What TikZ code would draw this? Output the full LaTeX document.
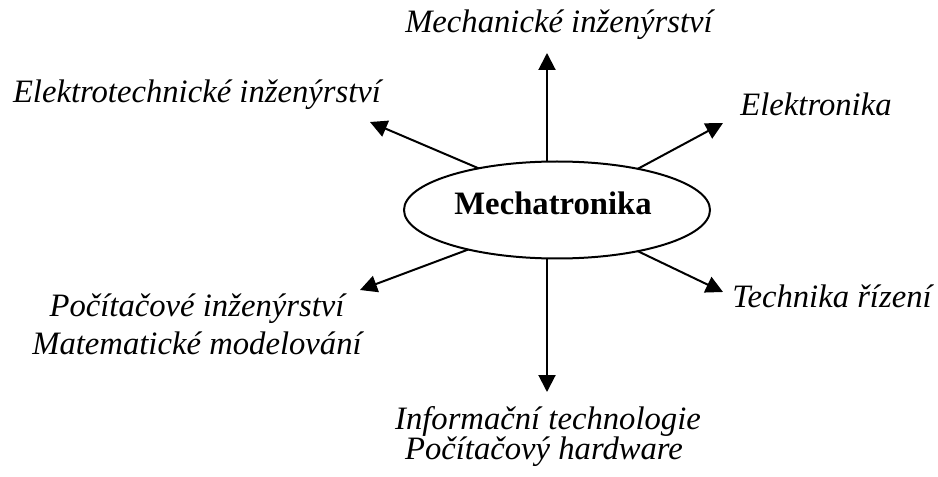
\documentclass[tikz,border=0pt]{standalone}
\usepackage{fontspec}
\setmainfont{Liberation Serif}
\usetikzlibrary{shapes.geometric,arrows.meta}

\tikzstyle{field} = [font=\fontsize{24.5}{24}\selectfont\itshape, anchor=base, inner sep=0pt]
\tikzstyle{hub} = [font=\fontsize{24.5}{24}\selectfont\bfseries, anchor=base, inner sep=0pt]
\tikzstyle{core} = [ellipse, draw, line width=1.5pt, outer sep=0pt, minimum width=229.5pt, minimum height=72.75pt]
\tikzstyle{link} = [draw, line width=1.5pt, -{Triangle[length=12.75pt,width=12.75pt]}]

\begin{document}
\begin{tikzpicture}[x=0.75pt,y=-0.75pt]
	\useasboundingbox (0,0) rectangle (938,477);
	% centre
	\node (ell) at (557,210) [core] {};
	\node (mt) at (553,215) [hub] {Mechatronika};
	% arrow tips
	\coordinate (tMI) at (547,53);
	\coordinate (tEE) at (370,122);
	\coordinate (tEL) at (723,123);
	\coordinate (tTR) at (723,292);
	\coordinate (tIT) at (547,392);
	\coordinate (tPI) at (360,290);
	% labels
	\node (mi) at (559,33) [field] {Mechanické inženýrství};
	\node (ee) at (197,103) [field] {Elektrotechnické inženýrství};
	\node (el) at (816,116) [field] {Elektronika};
	\node (tr) at (832,307) [field] {Technika řízení};
	\node (pi1) at (197,316) [field] {Počítačové inženýrství};
	\node (pi2) at (197,354) [field] {Matematické modelování};
	\node (it1) at (548,429) [field] {Informační technologie};
	\node (it2) at (544,459) [field] {Počítačový hardware};
	% arrows
	\path[link] (ell.north -| tMI) -- (tMI);
	\path[link] (ell.152) -- (tEE);
	\path[link] (ell.27) -- (tEL);
	\path[link] (ell.333) -- (tTR);
	\path[link] (ell.south -| tIT) -- (tIT);
	\path[link] (ell.204) -- (tPI);
\end{tikzpicture}
\end{document}
